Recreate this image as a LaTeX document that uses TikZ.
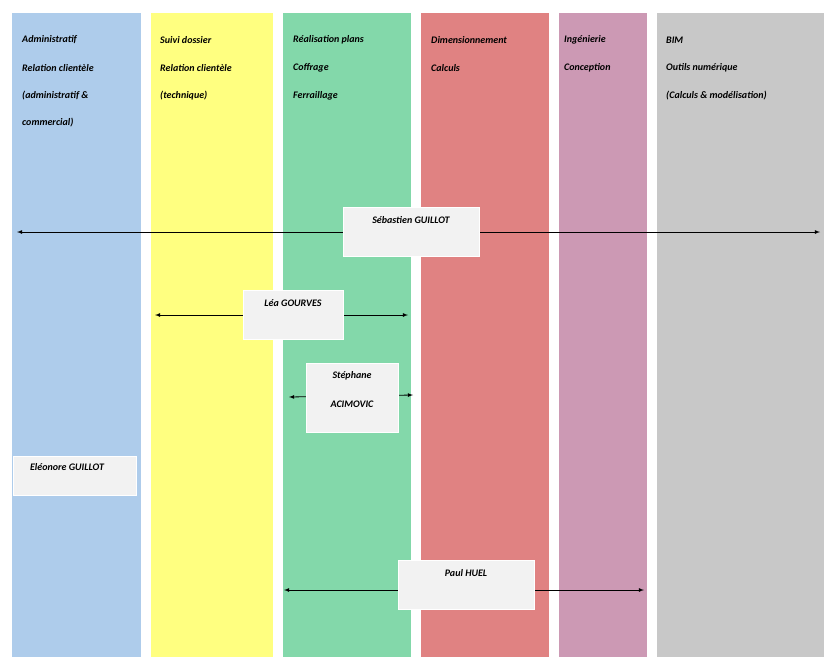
\documentclass[tikz,border=0pt]{standalone}
\usepackage{fontspec}
\setmainfont{Carlito}
\begin{document}
\begin{tikzpicture}[x=1pt,y=-1pt,
  col/.style={draw=none,anchor=north west,inner sep=0},
  hdr/.style={anchor=west,font=\bfseries\itshape\fontsize{10}{12}\selectfont,inner sep=0},
  box/.style={draw=white,line width=0.6pt,fill=black!5,anchor=north west,inner sep=0},
  lbl/.style={font=\bfseries\itshape\fontsize{10}{12}\selectfont,inner sep=0},
  arr/.style={<->,>=latex,line width=0.8pt}]
\useasboundingbox (0,0) rectangle (831,657);
\fill[white] (0,0) rectangle (831,657);
\fill[fill={rgb,255:red,174;green,204;blue,235}] (12,13) rectangle (141,657);
\fill[fill={rgb,255:red,255;green,255;blue,128}] (151,13) rectangle (273,657);
\fill[fill={rgb,255:red,131;green,216;blue,170}] (283,13) rectangle (411,657);
\fill[fill={rgb,255:red,224;green,130;blue,130}] (421,13) rectangle (549,657);
\fill[fill={rgb,255:red,204;green,153;blue,180}] (559,13) rectangle (647,657);
\fill[fill={rgb,255:red,200;green,200;blue,200}] (657,13) rectangle (824,657);
\node[hdr] (h1a) at (22,40) {Administratif};
\node[hdr] (h1b) at (22,68) {Relation clientèle};
\node[hdr] (h1c) at (22,96) {(administratif \&};
\node[hdr] (h1d) at (22,123) {commercial)};
\node[hdr] (h2a) at (160,40) {Suivi dossier};
\node[hdr] (h2b) at (160,68) {Relation clientèle};
\node[hdr] (h2c) at (160,96) {(technique)};
\node[hdr] (h3a) at (293,40) {Réalisation plans};
\node[hdr] (h3b) at (293,68) {Coffrage};
\node[hdr] (h3c) at (293,96) {Ferraillage};
\node[hdr] (h4a) at (431,40) {Dimensionnement};
\node[hdr] (h4b) at (431,68) {Calculs};
\node[hdr] (h5a) at (564,40) {Ingénierie};
\node[hdr] (h5b) at (564,68) {Conception};
\node[hdr] (h6a) at (666,40) {BIM};
\node[hdr] (h6b) at (666,68) {Outils numérique};
\node[hdr] (h6c) at (666,96) {(Calculs \& modélisation)};
\coordinate (s1) at (17,232); \coordinate (s2) at (820,232);
\coordinate (l1) at (155,315); \coordinate (l2) at (408,315);
\coordinate (t1) at (289,397); \coordinate (t2) at (413,395);
\coordinate (p1) at (284,590); \coordinate (p2) at (644,590);
\draw[arr] (s1) -- (s2);
\draw[arr] (l1) -- (l2);
\draw[arr] (t1) -- (t2);
\draw[arr] (p1) -- (p2);
\node[box,minimum width=136,minimum height=49] (bs) at (343,207) {};
\node[lbl] (ls) at (411,220) {Sébastien GUILLOT};
\node[box,minimum width=100,minimum height=49] (bl) at (243,290) {};
\node[lbl] (ll) at (293,303) {Léa GOURVES};
\node[box,minimum width=92,minimum height=69] (bt) at (306,363) {};
\node[lbl] (lt1) at (352,376) {Stéphane};
\node[lbl] (lt2) at (352,404) {ACIMOVIC};
\node[box,minimum width=123,minimum height=39] (be) at (13,456) {};
\node[lbl] (le) at (67,467) {Eléonore GUILLOT};
\node[box,minimum width=136,minimum height=49] (bp) at (398,560) {};
\node[lbl] (lp) at (466,573) {Paul HUEL};
\end{tikzpicture}
\end{document}
